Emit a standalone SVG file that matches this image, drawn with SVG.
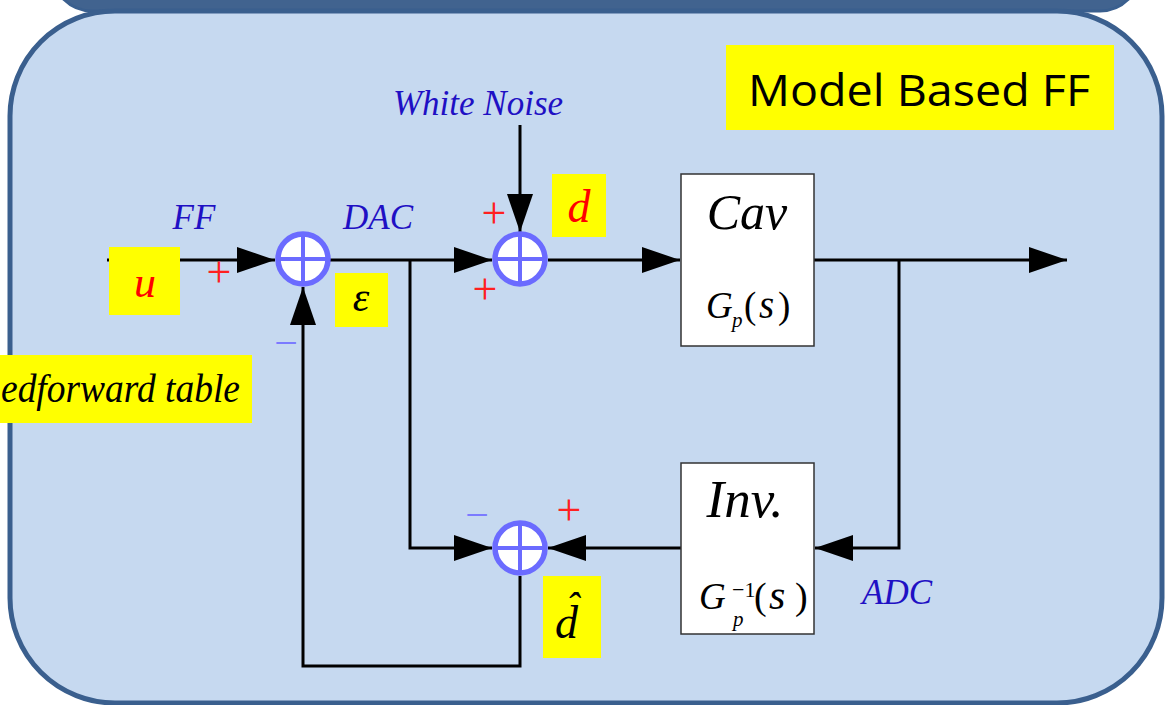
<svg xmlns="http://www.w3.org/2000/svg" width="1167" height="705" viewBox="0 0 1167 705">
<style>
.frame{fill:#c6d9f0;stroke:#3a5f8e;stroke-width:5}
.ln{fill:none;stroke:#000;stroke-width:3}
.sum{fill:#fff;stroke:#6b6bff;stroke-width:5.5}
.cross{stroke:#6b6bff;stroke-width:4}
.box{fill:#fff;stroke:#333;stroke-width:1.5}
.yel{fill:#ffff00}
.m{font-family:"Liberation Serif","Times New Roman",serif;font-style:italic}
.r{font-family:"Liberation Serif","Times New Roman",serif;font-style:normal}
.blue{fill:#1f10c4;font-size:35px}
.plus{font-family:"Liberation Serif",serif;font-size:44px;fill:#ff2020;text-anchor:middle}
.minus{font-family:"Liberation Serif",serif;font-size:42px;fill:#7b7bff;text-anchor:middle}
</style>
<defs>
<marker id="ah" viewBox="0 0 38 26" refX="38" refY="13" markerWidth="38" markerHeight="26" markerUnits="userSpaceOnUse" orient="auto">
<path d="M0,0 L38,13 L0,26 z" fill="#000"/>
</marker>
</defs>
<rect width="1167" height="705" fill="#fff"/>
<rect x="52" y="-100" width="1088" height="111" rx="40" fill="#41638f" stroke="#3a5f8e" stroke-width="3"/>
<rect class="frame" x="10" y="11" width="1152" height="692" rx="105"/>

<g id="connectors">
<path class="ln" d="M107,260 H275" marker-end="url(#ah)"/>
<path class="ln" d="M330,260 H492" marker-end="url(#ah)"/>
<path class="ln" d="M520,125 V232" marker-end="url(#ah)"/>
<path class="ln" d="M548,260 H680" marker-end="url(#ah)"/>
<path class="ln" d="M814,260 H1067" marker-end="url(#ah)"/>
<path class="ln" d="M899,260 V548 H815" marker-end="url(#ah)"/>
<path class="ln" d="M681,548 H548" marker-end="url(#ah)"/>
<path class="ln" d="M410,260 V548 H492" marker-end="url(#ah)"/>
<path class="ln" d="M520,576 V666 H303 V287" marker-end="url(#ah)"/>
</g>

<g id="sum1">
<circle class="sum" cx="303" cy="259" r="25"/>
<path class="cross" d="M278,259 H328 M303,234 V284"/>
</g>
<g id="sum2">
<circle class="sum" cx="520" cy="259" r="25"/>
<path class="cross" d="M495,259 H545 M520,234 V284"/>
</g>
<g id="sum3">
<circle class="sum" cx="520" cy="548" r="25"/>
<path class="cross" d="M495,548 H545 M520,523 V573"/>
</g>

<g id="cav">
<rect class="box" x="681" y="174" width="133" height="172"/>
<text class="m" x="747" y="229" font-size="50" text-anchor="middle">Cav</text>
<text class="m" x="706" y="318" font-size="37">G</text>
<text class="m" x="732" y="327" font-size="21">p</text>
<text class="r" x="744" y="318" font-size="37">(</text>
<text class="m" x="759" y="318" font-size="39">s</text>
<text class="r" x="778" y="318" font-size="37">)</text>
</g>

<g id="inv">
<rect class="box" x="681" y="463" width="133" height="171"/>
<text class="m" x="745" y="517" font-size="53" text-anchor="middle">Inv.</text>
<text class="m" x="699" y="609" font-size="37">G</text>
<text class="r" x="732" y="597" font-size="22">−1</text>
<text class="m" x="733" y="626" font-size="21">p</text>
<text class="r" x="754" y="609" font-size="38">(</text>
<text class="m" x="769" y="609" font-size="42">s</text>
<text class="r" x="795" y="609" font-size="38">)</text>
</g>

<g id="labels">
<text class="m blue" x="478" y="115" text-anchor="middle">White Noise</text>
<text class="m blue" x="194" y="229" text-anchor="middle">FF</text>
<text class="m blue" x="378" y="229" text-anchor="middle">DAC</text>
<text class="m blue" x="897" y="604" text-anchor="middle">ADC</text>
<text class="plus" x="219" y="287">+</text>
<text class="plus" x="494" y="228">+</text>
<text class="plus" x="485" y="304">+</text>
<text class="plus" x="569" y="525">+</text>
<text class="minus" x="286" y="357">−</text>
<text class="minus" x="477" y="529">−</text>
</g>

<g id="title">
<rect class="yel" x="726" y="45" width="388" height="85"/>
<text x="919" y="106" font-family="Open Sans, Liberation Sans, sans-serif" font-size="43" text-anchor="middle" textLength="342" lengthAdjust="spacingAndGlyphs">Model Based FF</text>
</g>
<g id="u">
<rect class="yel" x="109" y="247" width="71" height="68"/>
<text class="m" x="145" y="297" font-size="44" fill="#ff0000" text-anchor="middle">u</text>
</g>
<g id="eps">
<rect class="yel" x="335" y="273" width="53" height="54"/>
<text class="m" x="361" y="311" font-size="42" text-anchor="middle">ε</text>
</g>
<g id="d">
<rect class="yel" x="552" y="174" width="54" height="63"/>
<text class="m" x="579" y="222" font-size="46" fill="#ff0000" text-anchor="middle">d</text>
</g>
<g id="dhat">
<rect class="yel" x="543" y="576" width="58" height="82"/>
<text class="m" x="555" y="638" font-size="46">d<tspan font-size="40" dx="-12" dy="-18">ˆ</tspan></text>
</g>
<g id="fftable">
<rect class="yel" x="0" y="355" width="252" height="68"/>
<text class="m" x="1" y="402" font-size="39" textLength="239" lengthAdjust="spacingAndGlyphs">edforward table</text>
</g>
</svg>
